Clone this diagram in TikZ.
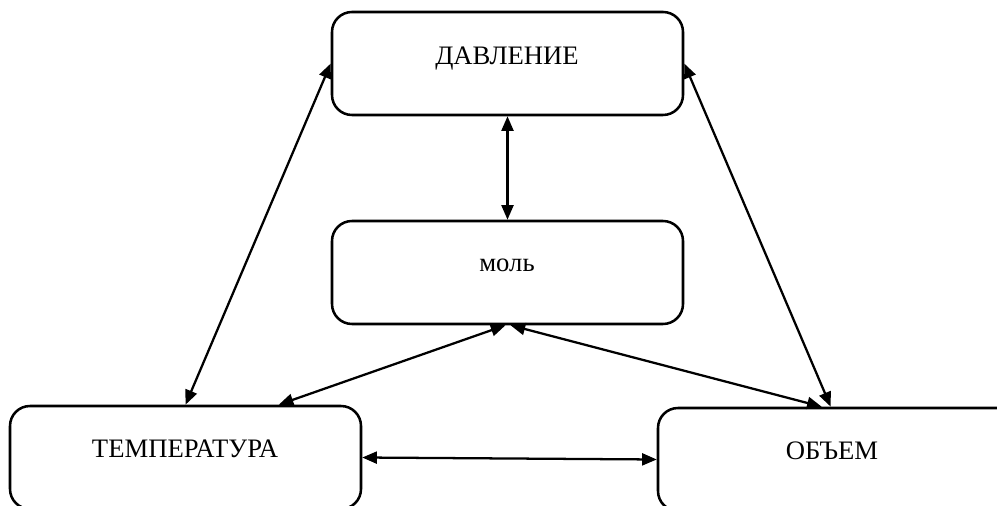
\documentclass[tikz,border=0pt]{standalone}
\usepackage{fontspec}
\setmainfont{Liberation Serif}
\usetikzlibrary{arrows.meta,calc}
\begin{document}
\begin{tikzpicture}[x=0.75pt,y=-0.75pt,
  boxst/.style={draw,line width=1.9pt,rounded corners=15pt,minimum width=351*0.75pt,minimum height=103*0.75pt,inner sep=0pt},
  txt/.style={anchor=base,inner sep=0pt,font=\fontsize{20}{24}\selectfont},
  link/.style={line width=1.7pt,{Triangle[length=11pt,width=9pt]}-{Triangle[length=11pt,width=9pt]}}]
\useasboundingbox (0,0) rectangle (997,506);
\clip (0,0) rectangle (997,506);
\node[boxst] (dav) at (507.5,63.5) {};
\node[boxst] (mol) at (507.5,272.5) {};
\node[boxst] (temp) at (185.5,457.5) {};
\node[boxst,minimum width=365*0.75pt] (obj) at (840.5,459.5) {};
\node[txt] (tdav) at (507,65) {ДАВЛЕНИЕ};
\node[txt] (tmol) at (507,272) {моль};
\node[txt] (ttemp) at (185,457) {ТЕМПЕРАТУРА};
\node[txt] (tobj) at (832,459) {ОБЪЕМ};
\coordinate (tempT) at ($(temp.north west)+(270,0)$);
\coordinate (objT) at ($(obj.north west)+(165,0)$);
\coordinate (objT2) at ($(obj.north west)+(174,0)$);
\coordinate (molL) at ($(mol.south)+(-2,0)$);
\coordinate (molR) at ($(mol.south)+(3,0)$);
\draw[link] (dav.west) -- (temp.north);
\draw[link] (dav.east) -- (objT2);
\draw[link] (dav.south) -- (mol.north);
\draw[link] (molL) -- (tempT);
\draw[link] (molR) -- (objT);
\draw[link] (temp.east) -- (obj.west);
\end{tikzpicture}
\end{document}
